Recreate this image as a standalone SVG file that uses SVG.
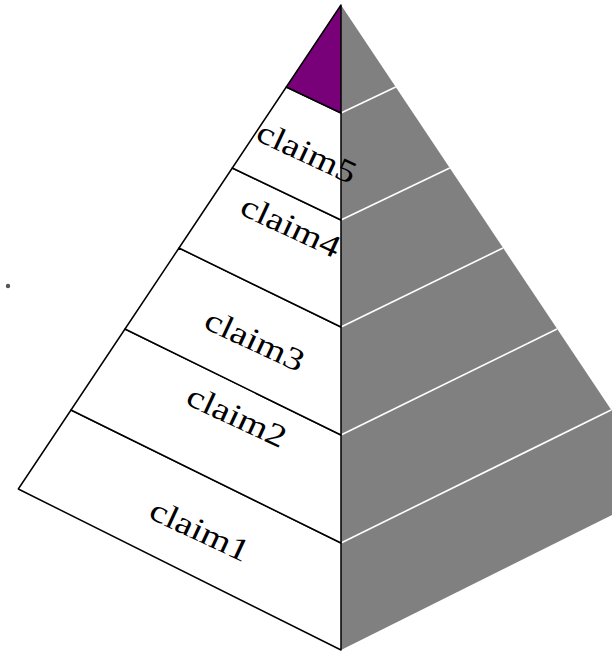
<svg xmlns="http://www.w3.org/2000/svg" width="612" height="652" viewBox="0 0 612 652">
<style>
.face{fill:#ffffff;stroke:#000;stroke-width:1.5;stroke-linejoin:round}
.sep{stroke:#fff;stroke-width:1.6;fill:none}
.lbl{font-family:"Liberation Serif","DejaVu Serif",serif;font-size:32px;fill:#000;text-anchor:middle;dominant-baseline:central}
</style>
<rect width="612" height="652" fill="#fff"/>
<g id="right-face">
<polygon points="341,5 664,489 341,650" fill="#808080"/>
<line class="sep" x1="341" y1="113" x2="395.7" y2="87"/>
<line class="sep" x1="341" y1="220" x2="449.7" y2="168"/>
<line class="sep" x1="341" y1="327" x2="503" y2="248"/>
<line class="sep" x1="341" y1="435" x2="557" y2="329"/>
<line class="sep" x1="341" y1="543" x2="611" y2="410"/>
</g>
<g id="layer1">
<polygon class="face" points="71,410 341,543 341,650 18.3,489"/>
<text class="lbl" x="200" y="530" transform="rotate(25 200 530)" textLength="106" lengthAdjust="spacingAndGlyphs">claim1</text>
</g>
<g id="layer2">
<polygon class="face" points="125,329 341,435 341,543 71,410"/>
<text class="lbl" x="237" y="416" transform="rotate(25 237 416)" textLength="106" lengthAdjust="spacingAndGlyphs">claim2</text>
</g>
<g id="layer3">
<polygon class="face" points="179,248 341,327 341,435 125,329"/>
<text class="lbl" x="255" y="340" transform="rotate(25 255 340)" textLength="106" lengthAdjust="spacingAndGlyphs">claim3</text>
</g>
<g id="layer4">
<polygon class="face" points="232.3,168 341,220 341,327 179,248"/>
<text class="lbl" x="291" y="226" transform="rotate(25 291 226)" textLength="106" lengthAdjust="spacingAndGlyphs">claim4</text>
</g>
<g id="layer5">
<polygon class="face" points="286.3,87 341,113 341,220 232.3,168"/>
<text class="lbl" x="307" y="152" transform="rotate(25 307 152)" textLength="106" lengthAdjust="spacingAndGlyphs">claim5</text>
</g>
<g id="top">
<polygon class="face" points="341,5 341,113 286.3,87" style="fill:#780078"/>
</g>
<g id="dot">
<circle cx="8" cy="286" r="2.2" fill="#555"/>
</g>
</svg>
